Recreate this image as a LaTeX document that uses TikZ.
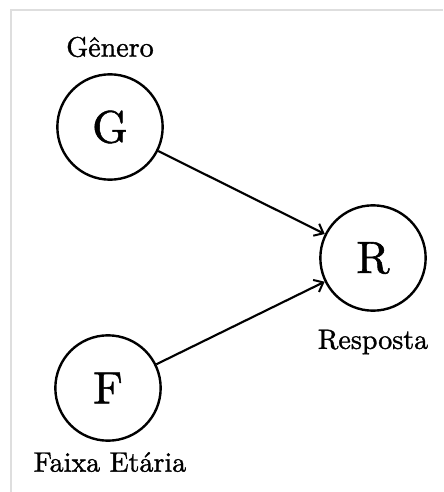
\documentclass[tikz,border=0pt]{standalone}
\usepackage{amsmath}
\usepackage{fontspec}
\usepackage{tikz}
\usetikzlibrary{arrows.meta}

\newfontfamily\grosso{lmroman10-regular.otf}[FakeBold=1.2]

\tikzset{
	var/.style={draw, circle, line width=1.8pt, minimum size=79pt, inner sep=0pt, font=\grosso\fontsize{34}{38}\selectfont},
	rotulo/.style={font=\grosso\fontsize{21}{25}\selectfont},
	seta/.style={-{Straight Barb[length=6pt,width=10pt,line width=1.5pt]}, line width=1.6pt}
}

\begin{document}
\begin{tikzpicture}[x=0.75pt, y=-0.75pt]
		\useasboundingbox (0,0) rectangle (443,492);
		\draw[black!13, line width=1.5pt] (11,492) -- (11,10) -- (443,10); % moldura

		\node[var] (G) at (110,127) {G};
		\node[rotulo] (lg) at (110,47) {Gênero};
		\node[var] (R) at (373,258) {R};
		\node[rotulo] (lr) at (373,342) {Resposta};
		\node[var] (F) at (108,388) {F};
		\node[rotulo] (lf) at (110,462) {Faixa Etária};

		\draw[seta] (G) -- (R);
		\draw[seta] (F) -- (R);

	\end{tikzpicture}
\end{document}
